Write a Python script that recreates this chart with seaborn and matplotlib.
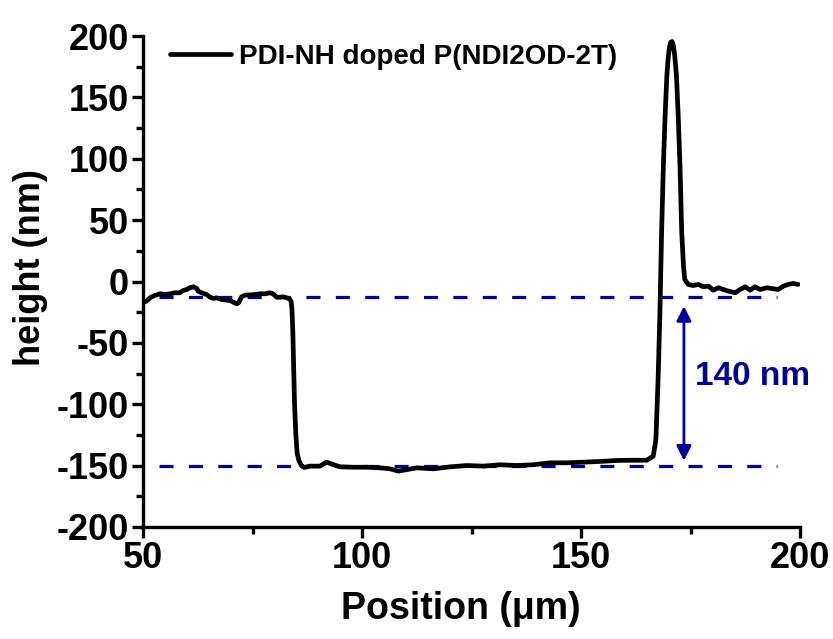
import matplotlib
matplotlib.use("Agg")
import matplotlib.pyplot as plt
import seaborn as sns
import numpy as np
import pandas as pd

# ---- data ----
position = [50.0, 50.8, 51.6, 52.7, 53.9, 55.0, 56.2, 57.3, 58.4, 59.2, 60.0, 60.7, 61.5,
            62.3, 62.6, 63.4, 64.5, 65.3, 66.1, 66.8, 68.0, 69.1, 69.9, 70.6, 71.4, 71.8,
            72.5, 73.3, 74.4, 75.6, 76.7, 77.9, 79.0, 79.7, 80.5, 81.3, 82.0, 82.8, 83.4,
            83.8, 84.0, 84.2, 84.4, 84.6, 84.9, 85.2, 85.6, 86.2, 86.8, 88.1, 90.4, 91.9,
            93.4, 95.0, 98.0, 101.1, 104.1, 106.4, 108.3, 112.5, 116.3, 120.1, 123.9,
            127.7, 131.5, 135.3, 139.1, 142.9, 146.7, 150.5, 154.3, 158.2, 161.9, 165.0,
            166.5, 167.1, 167.6, 168.0, 168.4, 168.8, 169.2, 169.6, 169.9, 170.2, 170.5,
            170.8, 171.1, 171.4, 171.8, 172.2, 172.6, 173.0, 173.4, 173.7, 174.5, 175.6,
            176.8, 177.9, 179.1, 180.2, 181.4, 182.5, 183.7, 185.2, 186.3, 187.5, 188.6,
            189.7, 190.9, 192.4, 193.9, 195.0, 196.2, 197.3, 198.5, 199.6]
height = [-17.0, -16.0, -13.3, -11.4, -10.0, -10.6, -10.0, -9.2, -9.2, -7.3, -6.5, -5.1, -4.3,
          -5.7, -7.9, -9.2, -10.6, -12.8, -13.8, -13.3, -14.7, -15.2, -15.5, -16.8, -18.2, -17.4,
          -12.5, -11.1, -10.9, -10.6, -10.0, -10.0, -9.2, -10.0, -12.8, -12.8, -12.5, -13.3, -14.1,
          -16.0, -22.0, -40.0, -70.0, -100.0, -125.0, -140.0, -146.0, -150.0, -151.5, -150.4, -150.4, -147.2,
          -149.1, -151.0, -151.3, -151.3, -151.8, -152.6, -154.5, -151.8, -152.6, -151.0, -149.9,
          -150.4, -149.3, -149.9, -149.3, -147.7, -147.7, -147.2, -146.6, -145.8, -145.6, -145.6,
          -142.3, -128.7, -79.8, -28.0, 39.7, 93.9, 134.7, 167.3, 182.0, 191.0, 195.0,
          195.5, 192.0, 184.0, 167.3, 134.7, 93.9, 39.7, 12.5, 1.6, -2.4, -3.3,
          -2.4, -4.3, -3.8, -7.1, -5.1, -6.5, -7.9, -9.2, -6.5, -4.3, -7.1,
          -4.3, -6.5, -5.1, -5.9, -6.5, -3.8, -2.4, -1.6, -2.4]
series_label = "PDI-NH doped P(NDI2OD-2T)"
ref_levels = [-13, -150]
ref_span = [53.7, 194.7]
arrow_x = 173.5
arrow_ends = [-20, -146]
step_label = "140 nm"
step_label_pos = [176.0, -77]

df = pd.DataFrame({"Position": position, "height": height})

sns.set_theme(style="ticks")
plt.rcParams["font.family"] = ["Liberation Sans", "DejaVu Sans"]
plt.rcParams["font.weight"] = "bold"
plt.rcParams["axes.unicode_minus"] = False
plt.rcParams["text.color"] = "black"
plt.rcParams["axes.labelcolor"] = "black"
plt.rcParams["xtick.color"] = "black"
plt.rcParams["ytick.color"] = "black"
plt.rcParams["axes.edgecolor"] = "black"

fig = plt.figure(figsize=(8.33, 6.39), dpi=100)
ax = fig.add_axes([143 / 833, 1 - 527 / 639, 657 / 833, 491 / 639])

navy = "#0000a0"
ax.hlines(ref_levels, ref_span[0], ref_span[1], colors=navy, linewidth=2.3,
          linestyles=(0, (4.4, 4.8)), zorder=1)

sns.lineplot(data=df, x="Position", y="height", color="black", linewidth=3.4,
             estimator=None, sort=False, label=series_label, ax=ax, zorder=3)

ax.annotate("", xy=(arrow_x, arrow_ends[0]), xytext=(arrow_x, arrow_ends[1]),
            arrowprops=dict(arrowstyle="<|-|>", color=navy, lw=2, mutation_scale=22,
                            shrinkA=0, shrinkB=0))
ax.text(step_label_pos[0], step_label_pos[1], step_label, color=navy, fontsize=24,
        fontweight="bold", ha="left", va="center")

ax.set_xlim(50, 200)
ax.set_ylim(-200, 200)
ax.set_xticks([50, 100, 150, 200])
ax.set_xticks([75, 125, 175], minor=True)
ax.set_yticks(np.arange(-200, 201, 50))
ax.set_yticks(np.arange(-175, 200, 50), minor=True)

for s in ["top", "right"]:
    ax.spines[s].set_visible(False)
for s in ["left", "bottom"]:
    ax.spines[s].set_linewidth(2.4)
    ax.spines[s].set_color("black")

ax.tick_params(axis="both", which="major", direction="out", length=8, width=2.4,
               labelsize=26, pad=2, color="black", labelcolor="black")
ax.tick_params(axis="both", which="minor", direction="out", length=5, width=2.4,
               color="black")
for lab in ax.get_xticklabels() + ax.get_yticklabels():
    lab.set_fontweight("bold")

ax.set_xlabel("Position (\u03bcm)", fontsize=27, fontweight="bold", color="black")
ax.set_ylabel("height (nm)", fontsize=26, fontweight="bold", color="black")
ax.xaxis.set_label_coords(0.483, -0.13)
ax.yaxis.set_label_coords(-0.145, 0.528)

leg = ax.legend(loc="center left", bbox_to_anchor=((170 - 143) / 657, (527 - 57) / 491),
                frameon=False, fontsize=20, handlelength=2.2, handletextpad=0.3,
                borderpad=0, borderaxespad=0)
for t in leg.get_texts():
    t.set_fontweight("bold")
    t.set_color("black")
for h in leg.get_lines():
    h.set_linewidth(3.4)

fig.savefig("out.png", dpi=100, facecolor="white")
